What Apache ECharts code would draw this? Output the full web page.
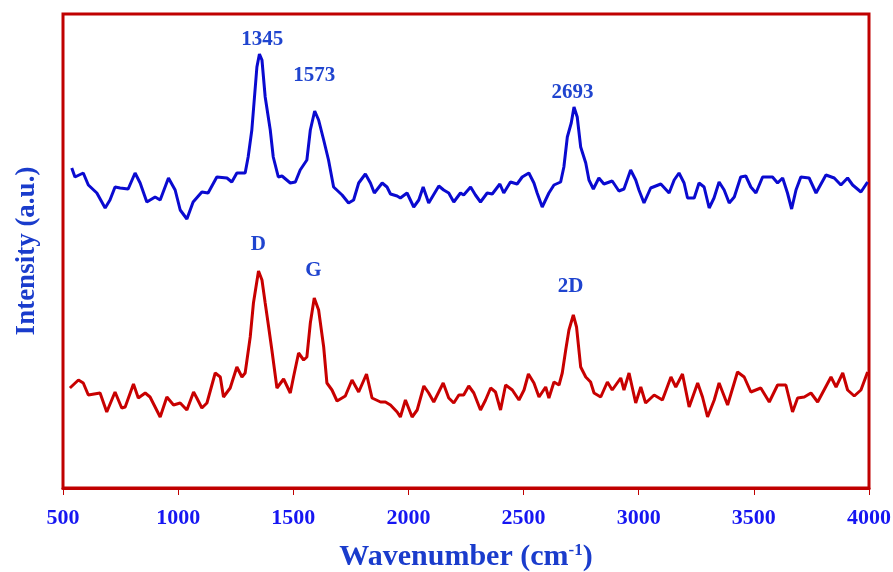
<!DOCTYPE html>
<html lang="en">
<head>
    <meta charset="UTF-8">
    <title>raman spectra</title>
    <style>
        html, body { margin: 0; padding: 0; background: #fff; }
        #chart { width: 893px; height: 572px; }
    </style>
</head>
<body>
<div id="chart"></div>
<script src="https://cdn.jsdelivr.net/npm/echarts@6/dist/echarts.min.js"></script>
<script>
    // upper (blue) spectrum
    var blueX = [538, 552, 588, 610, 647, 683, 704, 726, 748, 783, 813, 835, 864, 900, 922, 958, 987, 1009, 1038, 1065,
        1103, 1130, 1168, 1212, 1233, 1255, 1291, 1304, 1320, 1342, 1353, 1364, 1378, 1400, 1413, 1435, 1451, 1487, 1509, 1530,
        1559, 1574, 1593, 1610, 1632, 1653, 1675, 1712, 1740, 1762, 1784, 1813, 1835, 1852, 1886, 1907, 1922, 1951, 1965, 1994,
        2023, 2045, 2064, 2088, 2132, 2153, 2175, 2197, 2226, 2240, 2270, 2291, 2313, 2342, 2364, 2397, 2414, 2443, 2472, 2494,
        2523, 2545, 2559, 2581, 2610, 2632, 2661, 2675, 2690, 2707, 2719, 2733, 2748, 2770, 2784, 2803, 2827, 2849, 2885, 2914,
        2936, 2965, 2987, 3001, 3023, 3052, 3096, 3132, 3154, 3175, 3197, 3212, 3241, 3262, 3284, 3306, 3327, 3349, 3371, 3393,
        3415, 3443, 3465, 3487, 3509, 3538, 3581, 3603, 3625, 3646, 3664, 3683, 3704, 3740, 3770, 3813, 3849, 3878, 3907, 3929,
        3965, 3994];
    var blueY = [320, 311, 315, 303, 295, 280, 288, 301, 300, 299, 315, 305, 286, 291, 288, 310, 298, 278, 269, 286,
        296, 295, 311, 310, 306, 315, 315, 331, 358, 421, 434, 428, 391, 358, 331, 311, 312, 305, 306, 318,
        328, 358, 377, 368, 348, 328, 301, 293, 285, 288, 305, 314, 305, 295, 305, 301, 294, 292, 290, 295,
        281, 288, 301, 285, 302, 298, 295, 286, 295, 293, 301, 293, 286, 295, 294, 304, 295, 306, 304, 311,
        315, 305, 295, 281, 295, 303, 306, 321, 351, 365, 381, 371, 341, 325, 308, 299, 310, 304, 307, 297,
        299, 318, 308, 298, 285, 300, 304, 295, 308, 315, 305, 290, 290, 305, 301, 280, 290, 306, 298, 285,
        291, 311, 312, 301, 295, 311, 311, 305, 310, 295, 279, 298, 311, 310, 295, 313, 310, 303, 310, 303,
        296, 306];

    // lower (red) spectrum
    var redX = [530, 567, 588, 610, 661, 690, 726, 755, 770, 806, 827, 857, 878, 922, 951, 980, 1009, 1038, 1067, 1081,
        1103, 1125, 1161, 1183, 1197, 1226, 1255, 1277, 1291, 1313, 1327, 1349, 1364, 1378, 1393, 1407, 1429, 1458, 1487, 1501,
        1523, 1545, 1559, 1574, 1591, 1610, 1632, 1646, 1668, 1690, 1726, 1755, 1784, 1818, 1842, 1879, 1900, 1922, 1951, 1965,
        1987, 2016, 2038, 2067, 2088, 2110, 2151, 2175, 2197, 2219, 2240, 2262, 2284, 2313, 2335, 2357, 2378, 2400, 2422, 2451,
        2480, 2502, 2521, 2545, 2567, 2596, 2610, 2632, 2654, 2668, 2683, 2697, 2716, 2730, 2748, 2770, 2791, 2806, 2835, 2864,
        2885, 2922, 2936, 2958, 2987, 3009, 3030, 3067, 3103, 3140, 3161, 3190, 3219, 3256, 3277, 3299, 3328, 3349, 3386, 3429,
        3458, 3487, 3530, 3567, 3603, 3639, 3668, 3690, 3719, 3748, 3777, 3835, 3857, 3886, 3907, 3936, 3965, 3994];
    var redY = [100, 108, 105, 93, 95, 76, 96, 80, 81, 104, 90, 95, 91, 71, 91, 83, 85, 78, 96, 90,
        80, 85, 115, 111, 91, 100, 121, 111, 115, 151, 185, 217, 208, 185, 161, 138, 100, 109, 95, 111,
        135, 128, 131, 165, 190, 178, 141, 105, 98, 87, 92, 108, 96, 114, 90, 86, 86, 83, 76, 71,
        88, 71, 78, 102, 95, 86, 105, 90, 85, 93, 93, 102, 95, 78, 88, 100, 96, 78, 103, 98,
        88, 98, 114, 105, 91, 101, 90, 106, 103, 115, 138, 158, 173, 161, 121, 111, 106, 95, 91, 106,
        98, 110, 98, 115, 85, 101, 85, 93, 88, 111, 101, 114, 81, 105, 91, 71, 88, 105, 83, 116,
        111, 96, 100, 86, 103, 103, 76, 90, 91, 95, 86, 111, 101, 115, 98, 92, 98, 116];

    // peak annotations
    var blueTags = ["1345", "1573", "2693"];
    var blueTagX = [1365, 1591, 2713];
    var blueTagY = [448, 412, 395];
    var redTags = ["D", "G", "2D"];
    var redTagX = [1348, 1587, 2704];
    var redTagY = [243, 217, 201];

    var xTicks = [500, 1000, 1500, 2000, 2500, 3000, 3500, 4000];

    function pairs(xs, ys) {
        var out = [];
        for (var i = 0; i < xs.length; i++) out.push([xs[i], ys[i]]);
        return out;
    }

    function tags(names, xs, ys) {
        var out = [];
        for (var i = 0; i < names.length; i++) {
            out.push({name: names[i], coord: [xs[i], ys[i]], value: names[i]});
        }
        return out;
    }

    var serif = "Liberation Serif";
    var tagLabel = {
        show: true,
        position: "inside",
        formatter: "{b}",
        color: "#1f44cf",
        fontFamily: serif,
        fontWeight: "bold",
        fontSize: 21
    };

    var chart = echarts.init(document.getElementById("chart"));
    var option = {
        animation: false,
        backgroundColor: "#fff",
        grid: {
            left: 63, right: 24, top: 14, bottom: 84,
            containLabel: false,
            outerBoundsMode: "none",
            show: true,
            borderColor: "#c00000",
            borderWidth: 3
        },
        xAxis: {
            type: "value",
            min: xTicks[0],
            max: xTicks[xTicks.length - 1],
            interval: 500,
            axisLine: {show: true, lineStyle: {color: "#c00000", width: 3}},
            axisTick: {show: true, inside: false, length: 7, lineStyle: {color: "#c00000", width: 1}},
            splitLine: {show: false},
            axisLabel: {
                margin: 19,
                color: "#1616f2",
                fontFamily: serif,
                fontWeight: "bold",
                fontSize: 22,
                formatter: function (v) { return String(v); }
            },
            name: "Wavenumber (cm{sup|-1})",
            nameLocation: "middle",
            nameGap: 54,
            nameTextStyle: {
                color: "#1a3ccc",
                fontFamily: serif,
                fontWeight: "bold",
                fontSize: 30,
                rich: {
                    sup: {fontFamily: serif, fontWeight: "bold", fontSize: 17, color: "#1a3ccc", verticalAlign: "top", padding: [0, 0, 12, 0]}
                }
            }
        },
        yAxis: {
            type: "value",
            min: 0,
            max: 474,
            axisLine: {show: false},
            axisTick: {show: false},
            axisLabel: {show: false},
            splitLine: {show: false},
            name: "Intensity (a.u.)",
            nameLocation: "middle",
            nameGap: 22,
            nameTextStyle: {
                color: "#1a3ccc",
                fontFamily: serif,
                fontWeight: "bold",
                fontSize: 27
            }
        },
        series: [
            {
                type: "line",
                data: pairs(blueX, blueY),
                showSymbol: false,
                lineStyle: {color: "#0a0ad0", width: 3},
                markPoint: {
                    symbolSize: 0,
                    label: tagLabel,
                    data: tags(blueTags, blueTagX, blueTagY)
                }
            },
            {
                type: "line",
                data: pairs(redX, redY),
                showSymbol: false,
                lineStyle: {color: "#c80000", width: 3},
                markPoint: {
                    symbolSize: 0,
                    label: tagLabel,
                    data: tags(redTags, redTagX, redTagY)
                }
            }
        ]
    };
    chart.setOption(option);
</script>
</body>
</html>
